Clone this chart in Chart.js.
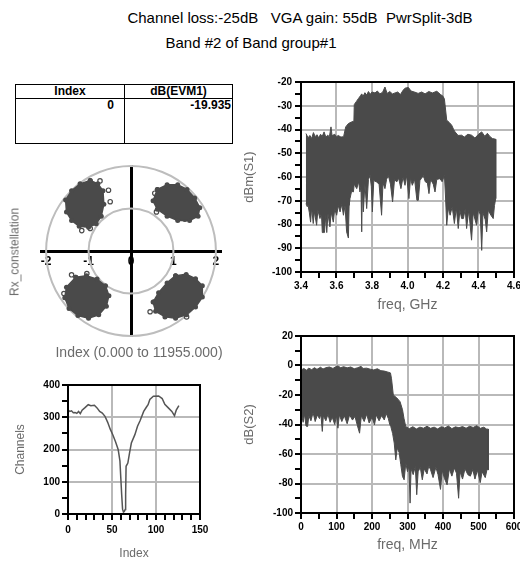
<!DOCTYPE html>
<html>
<head>
<meta charset="utf-8">
<script src="https://cdn.jsdelivr.net/npm/chart.js@4.4.1/dist/chart.umd.min.js"></script>
<style>
  html, body { margin: 0; padding: 0; background: #fff; }
  body { position: relative; width: 520px; height: 563px; overflow: hidden;
         font-family: "Liberation Sans", Arial, sans-serif; }
  canvas { position: absolute; }
  .title { position: absolute; white-space: pre; font-size: 15px; line-height: 17px;
           color: #000; transform: translateX(-50%); }
  .lbl { position: absolute; white-space: pre; color: #6b6b6b; line-height: 15px; }
  #evm { position: absolute; left: 15px; top: 84px; width: 217px; height: 60px;
         border-collapse: collapse; font-size: 12px; font-weight: bold; table-layout: fixed; }
  #evm th, #evm td { border: 1.5px solid #000; padding: 0 1px; line-height: 13px; }
  #evm th { height: 13px; text-align: center; }
  #evm td { height: 44px; vertical-align: top; text-align: right; }
  #evm td.idx { padding-right: 10px; }
</style>
</head>
<body>
<div class="title" style="left:300px; top:9px;">Channel loss:-25dB   VGA gain: 55dB  PwrSplit-3dB</div>
<div class="title" style="left:251px; top:34px;">Band #2 of Band group#1</div>

<table id="evm"></table>

<canvas id="const" width="240" height="195" style="left:0; top:155px;"></canvas>
<div class="lbl" style="font-size:12px; left:15px; top:252px; transform:translate(-50%,-50%) rotate(-90deg);">Rx_constellation</div>
<div class="lbl" style="font-size:14px; left:139px; top:345px; transform:translateX(-50%);">Index (0.000 to 11955.000)</div>

<canvas id="chan" width="215" height="191" style="left:0; top:372px;"></canvas>
<canvas id="s1" width="290" height="265" style="left:240px; top:60px;"></canvas>
<canvas id="s2" width="290" height="238" style="left:240px; top:325px;"></canvas>

<script>
// ---- EVM summary table ----
const evmIndex = [0];
const evmDb = [-19.935];

// ---- received constellation (I/Q), cluster outlines and stray symbols ----
const ringRadii = [1, 2];
const clusterUL = [[-0.96,1.66],[-0.78,1.58],[-0.66,1.42],[-0.64,1.10],[-0.70,0.82],[-0.82,0.64],[-1.00,0.56],[-1.22,0.58],[-1.40,0.72],[-1.52,0.92],[-1.54,1.20],[-1.40,1.42],[-1.20,1.58]];
const clusterUR = [[0.62,1.45],[0.85,1.56],[1.10,1.56],[1.32,1.45],[1.50,1.25],[1.62,1.02],[1.58,0.82],[1.38,0.72],[1.10,0.72],[0.85,0.82],[0.62,0.98],[0.52,1.18]];
const clusterLL = [[-1.30,-0.62],[-1.05,-0.58],[-0.80,-0.66],[-0.60,-0.82],[-0.52,-1.05],[-0.58,-1.30],[-0.76,-1.50],[-1.00,-1.58],[-1.25,-1.52],[-1.46,-1.35],[-1.56,-1.10],[-1.52,-0.85]];
const clusterLR = [[1.05,-0.58],[1.30,-0.55],[1.52,-0.65],[1.68,-0.82],[1.68,-1.08],[1.52,-1.32],[1.30,-1.50],[1.05,-1.58],[0.80,-1.55],[0.58,-1.42],[0.52,-1.20],[0.65,-0.98],[0.85,-0.75]];
const strayI = [-0.73,-0.53,-0.49,-1.16,-0.96,0.56,0.60,1.27,-1.40,-1.04,-1.58,0.45,0.55,1.31];
const strayQ = [1.65,1.43,1.16,0.48,0.53,1.36,0.92,0.75,-0.56,-0.53,-1.00,-1.43,-1.20,-1.55];

// ---- channel estimate ----
const chanIndex = [0,2,4,6,8,10,12,14,16,19,23,26,30,33,36,39,42,45,48,51,54,57,59,60,61,62,63,64,65,65.5,66,68,70,72,76,79,82,86,89,91,93,97,103,107,110,114,118,121,123,126];
const chanValue = [323,318,320,314,315,312,318,311,322,329,339,336,337,329,318,313,303,285,263,245,224,200,165,112,60,15,6,8,14,60,148,158,190,220,246,272,290,318,331,339,355,365,366,358,340,329,318,305,322,336];

// ---- RF spectrum S1: upper and lower envelope ----
const s1UpperGHz = [3.428,3.44,3.45,3.46,3.47,3.48,3.49,3.50,3.51,3.52,3.53,3.54,3.55,3.56,3.569,3.575,3.59,3.60,3.61,3.625,3.64,3.652,3.667,3.685,3.698,3.70,3.712,3.723,3.735,3.742,3.75,3.76,3.77,3.78,3.79,3.80,3.817,3.83,3.845,3.86,3.873,3.885,3.90,3.915,3.93,3.945,3.96,3.975,3.986,4.005,4.02,4.042,4.06,4.08,4.099,4.12,4.14,4.165,4.185,4.20,4.208,4.221,4.235,4.249,4.26,4.268,4.285,4.305,4.32,4.34,4.361,4.38,4.40,4.418,4.435,4.45,4.465,4.478,4.497];
const s1UpperDb = [-41.7,-43.5,-42.5,-43.8,-41.3,-43.0,-42.2,-43.5,-42.0,-42.8,-41.0,-43.2,-42.4,-43.0,-38.9,-42.6,-42.0,-43.0,-42.5,-43.2,-43.0,-38.9,-37.5,-36.8,-36.5,-29.5,-28.2,-27.0,-25.8,-25.0,-26.0,-24.5,-25.5,-24.0,-25.2,-24.2,-24.6,-23.8,-25.0,-24.3,-22.1,-24.8,-24.0,-25.0,-24.6,-24.2,-25.3,-23.5,-22.6,-22.3,-23.8,-24.3,-24.8,-24.2,-25.0,-24.0,-24.6,-23.9,-25.2,-26.0,-27.2,-36.1,-37.0,-38.2,-40.0,-41.0,-42.5,-42.4,-43.2,-42.0,-42.4,-43.6,-42.0,-41.0,-42.8,-41.6,-43.0,-43.8,-44.1];
const s1LowerGHz = [3.428,3.435,3.44,3.447,3.454,3.46,3.469,3.475,3.488,3.495,3.507,3.515,3.52,3.526,3.532,3.54,3.545,3.552,3.563,3.57,3.582,3.59,3.601,3.61,3.62,3.63,3.639,3.648,3.657,3.667,3.671,3.676,3.685,3.695,3.70,3.714,3.725,3.732,3.738,3.742,3.746,3.751,3.76,3.77,3.78,3.789,3.796,3.802,3.81,3.826,3.84,3.854,3.862,3.873,3.882,3.892,3.904,3.916,3.927,3.939,3.95,3.963,3.975,3.986,3.995,4.008,4.017,4.027,4.04,4.053,4.061,4.07,4.089,4.10,4.112,4.121,4.13,4.145,4.155,4.165,4.183,4.195,4.208,4.214,4.221,4.23,4.24,4.252,4.264,4.275,4.286,4.295,4.305,4.315,4.325,4.333,4.345,4.361,4.37,4.389,4.40,4.41,4.418,4.425,4.438,4.446,4.455,4.47,4.483,4.49,4.497];
const s1LowerDb = [-71.2,-72.5,-71.9,-75.0,-79.0,-73.0,-79.6,-74.5,-80.3,-74.0,-77.5,-75.0,-83.4,-83.4,-83.4,-76.0,-83.4,-75.5,-81.0,-74.8,-79.0,-73.5,-76.1,-72.0,-74.7,-71.5,-76.1,-72.0,-83.1,-85.7,-72.0,-69.1,-66.0,-66.3,-63.0,-64.9,-62.0,-66.3,-64.0,-83.1,-63.5,-74.7,-63.0,-73.3,-61.0,-59.3,-64.0,-74.7,-61.5,-62.1,-63.0,-76.1,-62.5,-64.9,-61.0,-59.3,-63.0,-70.5,-61.0,-62.1,-60.5,-64.9,-60.0,-63.5,-59.3,-69.1,-60.5,-63.5,-61.0,-69.8,-69.8,-61.5,-59.3,-62.0,-62.5,-67.0,-61.0,-63.0,-66.3,-61.0,-60.7,-62.0,-59.3,-68.0,-80.3,-73.0,-76.1,-72.5,-79.6,-73.0,-81.7,-74.0,-77.5,-77.5,-73.5,-81.7,-74.0,-86.6,-75.0,-80.3,-73.5,-76.0,-90.9,-75.0,-78.0,-83.1,-74.0,-76.1,-77.5,-72.0,-69.1];

// ---- baseband spectrum S2: upper and lower envelope ----
const s2UpperMHz = [0,1,8,15,22,30,38,45,55,62,70,80,90,98,104,112,120,130,140,150,160,169,175,185,195,205,215,225,235,245,252,255,260,270,279,286,290,295,305,315,325,335,345,355,365,375,385,395,405,415,425,435,445,455,465,475,485,495,505,515,522,528];
const s2UpperDb = [-2.5,-3.0,-2.0,-3.2,-1.8,-2.8,-1.5,-2.6,-1.2,-2.4,-1.5,-1.0,-2.0,-0.8,-0.3,-1.5,-0.8,-1.6,-1.0,-2.2,-1.5,-0.6,-2.0,-1.8,-2.5,-3.0,-2.2,-3.5,-3.8,-4.5,-5.0,-9.0,-20.0,-22.0,-24.5,-30.0,-35.7,-41.4,-42.8,-41.5,-43.0,-41.8,-42.5,-41.2,-42.6,-41.8,-43.0,-41.5,-42.4,-41.0,-42.8,-41.6,-42.2,-41.4,-42.5,-41.2,-42.0,-40.8,-42.6,-41.8,-43.0,-43.2];
const s2LowerMHz = [0,3,6,10,14,18.6,22,28,34,40,46,52,56,60,63,70,76,82,88,95,100,104,108,115,122,130,137,145,152,158,165,170,178,185,192,200,207,212,220,227,234.6,240,246,250,253,258,262.6,267,271,276.5,281,285.8,290.5,295.2,300,304,307.3,310,316,322,326,330,336,341.7,347,355,360,365,372,380,386,393,398,404,411.5,418,425,432,438,444,448,455,462,470,477,484,490,497,505,510,519,524,528];
const s2LowerDb = [-37.0,-35.0,-38.5,-33.0,-41.0,-41.4,-34.0,-37.5,-32.0,-38.0,-33.5,-36.0,-33.0,-44.7,-34.0,-37.5,-33.0,-38.5,-35.0,-40.0,-34.0,-42.5,-33.5,-38.0,-34.0,-39.5,-33.5,-37.0,-34.5,-40.0,-45.9,-34.0,-38.0,-33.0,-39.0,-35.0,-40.2,-33.5,-37.5,-34.0,-36.9,-32.5,-36.0,-40.0,-41.4,-46.0,-52.6,-64.0,-56.0,-59.0,-67.0,-75.2,-77.5,-66.2,-72.0,-68.0,-93.3,-70.0,-74.0,-68.5,-87.6,-72.0,-69.0,-77.5,-70.0,-73.5,-68.0,-70.7,-76.0,-69.0,-74.0,-84.0,-71.0,-76.5,-80.9,-70.0,-75.0,-69.5,-73.0,-90.0,-72.0,-77.0,-70.0,-74.0,-75.0,-70.5,-77.0,-71.0,-79.4,-72.0,-76.0,-70.5,-70.7];

// ---- table ----
(function buildTable() {
  const t = document.getElementById('evm');
  let html = '<colgroup><col style="width:109px"><col style="width:108px"></colgroup>';
  html += '<tr><th>Index</th><th>dB(EVM1)</th></tr>';
  evmIndex.forEach((ix, i) => {
    html += '<tr><td class="idx">' + ix + '</td><td>' + evmDb[i].toFixed(3) + '</td></tr>';
  });
  t.innerHTML = html;
})();

// ---- shared styling ----
Chart.defaults.font.family = "'Liberation Sans', Arial, sans-serif";
Chart.defaults.animation = false;
Chart.defaults.plugins.legend.display = false;
Chart.defaults.plugins.tooltip.enabled = false;

const INK = '#4a4a4a';
const GRID = '#b9b9b9';
const TITLE_GRAY = '#6b6b6b';
const TICK_LEN = 6;

const pts = (xs, ys) => xs.map((x, i) => ({ x, y: ys[i] }));
const band = (xU, yU, xL, yL) => pts(xU, yU).concat(pts(xL, yL).reverse());
const ring = (pairs) => pairs.concat([pairs[0]]).map(([x, y]) => ({ x, y }));

// black frame round the plotting area, with outward tick marks at every scale tick
const framePlugin = {
  id: 'frame',
  afterDraw(chart) {
    const { left, top, right, bottom } = chart.chartArea;
    const ctx = chart.ctx;
    ctx.save();
    ctx.strokeStyle = '#000';
    ctx.lineWidth = 2;
    ctx.strokeRect(left, top, right - left, bottom - top);
    ctx.beginPath();
    const xs = chart.scales.x, ys = chart.scales.y;
    xs.ticks.forEach((t, i) => {
      const px = Math.round(xs.getPixelForTick(i));
      ctx.moveTo(px, bottom);
      ctx.lineTo(px, bottom + TICK_LEN);
    });
    ys.ticks.forEach((t, i) => {
      const py = Math.round(ys.getPixelForTick(i));
      ctx.moveTo(left - TICK_LEN, py);
      ctx.lineTo(left, py);
    });
    ctx.stroke();
    ctx.restore();
  }
};

// concentric amplitude rings for the constellation
const ringPlugin = {
  id: 'rings',
  beforeDatasetsDraw(chart) {
    const xs = chart.scales.x, ys = chart.scales.y;
    const cx = xs.getPixelForValue(0), cy = ys.getPixelForValue(0);
    const ctx = chart.ctx;
    ctx.save();
    ctx.strokeStyle = '#bdbdbd';
    ctx.lineWidth = 2;
    ringRadii.forEach(r => {
      const rx = xs.getPixelForValue(r) - cx;
      const ry = cy - ys.getPixelForValue(r);
      ctx.beginPath();
      ctx.ellipse(cx, cy, rx, ry, 0, 0, Math.PI * 2);
      ctx.stroke();
    });
    ctx.restore();
  }
};

function frameAxis(o) {
  const on = (v, every) => Math.abs(v / every - Math.round(v / every)) < 1e-6;
  const eps = o.step / 100;
  return {
    type: 'linear', min: o.min, max: o.max,
    afterFit: s => { if (o.horizontal) s.height = o.size; else s.width = o.size; },
    ticks: {
      stepSize: o.step, autoSkip: false, maxRotation: 0, includeBounds: true,
      color: '#000', padding: o.tickPad, font: { size: 10, weight: 'bold' },
      callback: v => on(v, o.labelEvery) ? o.fmt(v) : ''
    },
    grid: {
      color: c => {
        const v = c.tick ? c.tick.value : NaN;
        return (on(v, o.gridEvery) && v > o.min + eps && v < o.max - eps) ? GRID : 'rgba(0,0,0,0)';
      },
      lineWidth: 2, drawTicks: true, tickColor: '#000', tickWidth: 2, tickLength: TICK_LEN
    },
    border: { color: '#000', width: 2 },
    title: { display: true, text: o.title, color: TITLE_GRAY, font: { size: o.titleSize }, padding: o.titlePad }
  };
}

const baseOpts = (padding, scales) => ({
  responsive: false, devicePixelRatio: 1, animation: false,
  layout: { padding },
  elements: { line: { tension: 0 } },
  scales
});

// ---- constellation ----
const clusterSet = (pairs) => ({
  data: ring(pairs), borderColor: INK, backgroundColor: INK, borderWidth: 1.5,
  fill: 'shape', pointRadius: 2.5, pointBackgroundColor: INK, pointBorderWidth: 0, showLine: true
});
new Chart(document.getElementById('const'), {
  type: 'line',
  data: {
    datasets: [
      clusterSet(clusterUL), clusterSet(clusterUR), clusterSet(clusterLL), clusterSet(clusterLR),
      { data: pts(strayI, strayQ), showLine: false, pointRadius: 2.2, pointBorderWidth: 1.2,
        pointBorderColor: INK, pointBackgroundColor: '#fff' }
    ]
  },
  options: baseOpts({ left: 41, right: 19, top: 11, bottom: 14 }, {
    x: {
      type: 'linear', min: -2.12, max: 2.12, position: { y: 0 },
      ticks: { stepSize: 1, includeBounds: false, color: '#000', padding: 3,
               font: { size: 12, weight: 'bold' } },
      grid: { display: false, drawTicks: false },
      border: { color: '#000', width: 3 }
    },
    y: {
      type: 'linear', min: -2, max: 2, position: { x: 0 },
      ticks: { display: false },
      grid: { display: false, drawTicks: false },
      border: { color: '#000', width: 3 }
    }
  }),
  plugins: [ringPlugin]
});

// ---- channel estimate ----
new Chart(document.getElementById('chan'), {
  type: 'line',
  data: { datasets: [{ data: pts(chanIndex, chanValue), borderColor: '#555', borderWidth: 1.5,
                       pointRadius: 0, fill: false }] },
  options: baseOpts({ top: 13, right: 15, left: 0, bottom: 0 }, {
    x: frameAxis({ min: 0, max: 150, step: 10, labelEvery: 50, gridEvery: 50, fmt: v => String(v),
                   title: 'Index', titleSize: 12, size: 49, titlePad: { top: 0, bottom: 2 }, tickPad: 4, horizontal: true }),
    y: frameAxis({ min: 0, max: 400, step: 50, labelEvery: 100, gridEvery: 100, fmt: v => String(v),
                   title: 'Channels', titleSize: 12, size: 68, titlePad: { top: 13, bottom: 0 }, tickPad: 2 })
  }),
  plugins: [framePlugin]
});

// ---- S1 RF spectrum ----
new Chart(document.getElementById('s1'), {
  type: 'line',
  data: { datasets: [{ data: band(s1UpperGHz, s1UpperDb, s1LowerGHz, s1LowerDb), fill: 'shape',
                       borderColor: INK, backgroundColor: INK, borderWidth: 1, pointRadius: 0 }] },
  options: baseOpts({ top: 22, right: 16, left: 0, bottom: 0 }, {
    x: frameAxis({ min: 3.4, max: 4.6, step: 0.1, labelEvery: 0.2, gridEvery: 0.2, fmt: v => v.toFixed(1),
                   title: 'freq, GHz', titleSize: 14, size: 53, titlePad: { top: 0, bottom: 11 }, tickPad: 2, horizontal: true }),
    y: frameAxis({ min: -100, max: -20, step: 5, labelEvery: 10, gridEvery: 10, fmt: v => String(v),
                   title: 'dBm(S1)', titleSize: 13, size: 61, titlePad: { top: 2, bottom: 0 }, tickPad: 3 })
  }),
  plugins: [framePlugin]
});

// ---- S2 baseband spectrum ----
new Chart(document.getElementById('s2'), {
  type: 'line',
  data: { datasets: [{ data: band(s2UpperMHz, s2UpperDb, s2LowerMHz, s2LowerDb), fill: 'shape',
                       borderColor: INK, backgroundColor: INK, borderWidth: 1, pointRadius: 0 }] },
  options: baseOpts({ top: 11, right: 16, left: 0, bottom: 0 }, {
    x: frameAxis({ min: 0, max: 600, step: 50, labelEvery: 100, gridEvery: 100, fmt: v => String(v),
                   title: 'freq, MHz', titleSize: 14, size: 50, titlePad: { top: 0, bottom: 9 }, tickPad: 2, horizontal: true }),
    y: frameAxis({ min: -100, max: 20, step: 10, labelEvery: 20, gridEvery: 20, fmt: v => String(v),
                   title: 'dB(S2)', titleSize: 13, size: 61, titlePad: { top: 2, bottom: 0 }, tickPad: 2 })
  }),
  plugins: [framePlugin]
});
</script>
</body>
</html>
